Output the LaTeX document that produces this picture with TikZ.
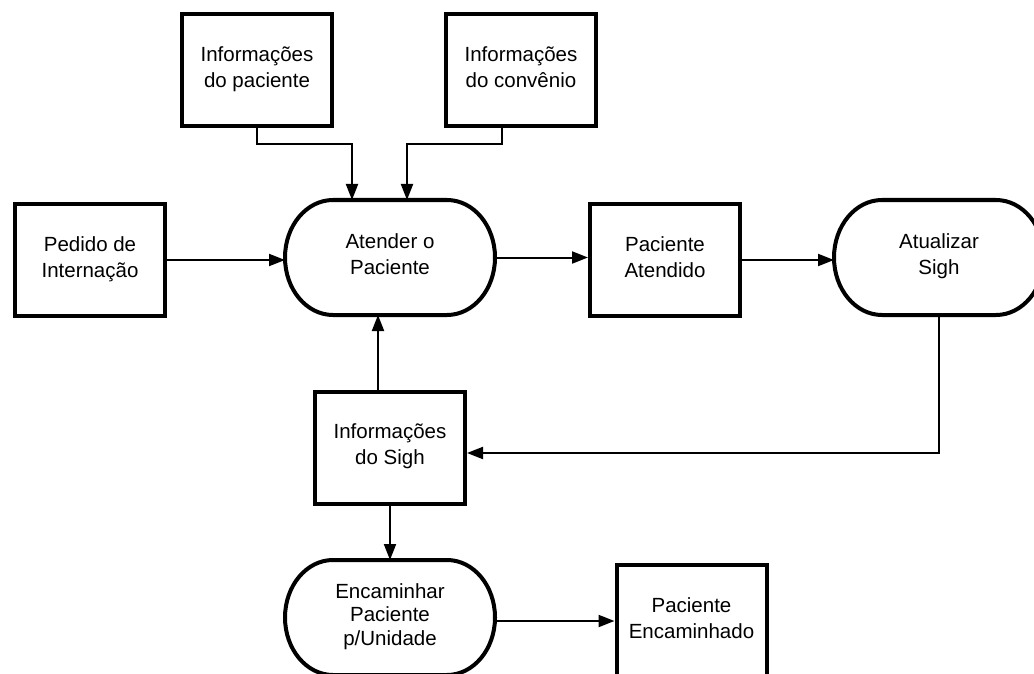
\documentclass[tikz,border=0pt]{standalone}
\usepackage{fontspec}
\setmainfont{Liberation Sans}
\usetikzlibrary{arrows.meta,calc}
% outline of a process node: flat top and bottom, elliptical ends
\newcommand\procoutline[1]{%
  \draw[line width=4pt]
    ($(#1.north west)+(48,0)$) -- ($(#1.north east)+(-48,0)$)
    arc[start angle=90, end angle=-90, x radius=48pt, y radius=57.5pt]
    -- ($(#1.south west)+(48,0)$)
    arc[start angle=270, end angle=90, x radius=48pt, y radius=57.5pt]
    -- cycle;}
\begin{document}
\begin{tikzpicture}[x=1pt,y=-1pt,
  label text/.style={align=center, inner sep=0pt,
    font=\fontsize{20.5}{26}\selectfont,
    execute at begin node={\rule{0pt}{20pt}},
    execute at end node={\rule[-6pt]{0pt}{6pt}}},
  box/.style={label text, draw, line width=4pt, minimum width=150pt, minimum height=112pt},
  proc/.style={label text, outer sep=0pt, minimum width=210pt, minimum height=115pt},
  flow/.style={line width=2pt, -{Triangle[length=16pt,width=12pt]}}]
\useasboundingbox (0,0) rectangle (1034,674);

% data stores
\node[box] (ip) at (257,70)    {Informações\\do paciente};
\node[box] (ic) at (521,70)    {Informações\\do convênio};
\node[box] (pd) at (90,260)    {Pedido de\\Internação};
\node[box] (pa) at (665,260)   {Paciente\\Atendido};
\node[box] (is) at (390,447.5) {Informações\\do Sigh};
\node[box] (pe) at (691.5,621) {Paciente\\Encaminhado};

% processes
\node[proc] (at) at (390,257.5) {Atender o\\Paciente};
\node[proc] (au) at (939,257.5) {Atualizar\\Sigh};
\node[proc, font=\fontsize{20.5}{23.5}\selectfont] (en) at (390,617.5) {Encaminhar\\Paciente\\p/Unidade};
\procoutline{at}
\procoutline{au}
\procoutline{en}

% routing points
\coordinate (k1) at (352,144);
\coordinate (k2) at (407,144);
\coordinate (k3) at (502,144);
\coordinate (k4) at (939,453);
\coordinate (k5) at (378,400);

% connectors
\draw[flow] (ip.south) |- (k1) -- (k1 |- at.north);
\draw[flow] (k3 |- ic.south) -- (k3) -- (k2) -- (k2 |- at.north);
\draw[flow] (pd.east) -- (pd.east -| at.west);
\draw[flow] (at.east) -- (at.east -| pa.west);
\draw[flow] (pa.east) -- (pa.east -| au.west);
\draw[flow] (au.south) -- (k4) -- (k4 -| is.east);
\draw[flow] (k5 |- is.north) -- (k5 |- at.south);
\draw[flow] (is.south) -- (en.north);
\draw[flow] (en.east |- pe.west) -- (pe.west);
\end{tikzpicture}
\end{document}
